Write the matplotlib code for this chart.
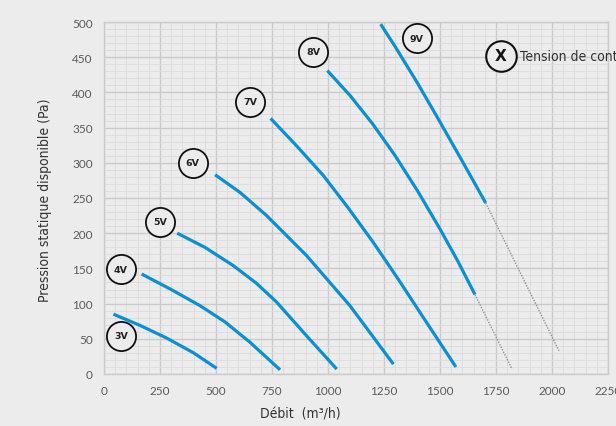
import matplotlib

matplotlib.use("Agg")
import matplotlib.pyplot as plt
from matplotlib import font_manager
from matplotlib.ticker import MultipleLocator

# Fan curves: airflow (m3/h) vs available static pressure (Pa), per control voltage
labels = ["3V", "4V", "5V", "6V", "7V", "8V", "9V"]
flow = [
    [42, 161, 280, 400, 503],
    [168, 300, 429, 540, 652, 786],
    [327, 450, 577, 680, 771, 905, 1039],
    [496, 607, 726, 905, 1098, 1292],
    [744, 860, 979, 1090, 1202, 1315, 1426, 1571],
    [997, 1100, 1200, 1300, 1400, 1500, 1580, 1656],
    [1235, 1300, 1400, 1500, 1600, 1704],
]
pressure = [
    [85, 69, 51, 30, 8],
    [142, 120, 97, 74, 45, 6],
    [200, 180, 154, 129, 102, 54, 7],
    [283, 258, 225, 168, 97, 14],
    [363, 324, 282, 236, 187, 134, 80, 10],
    [431, 395, 355, 310, 260, 206, 160, 113],
    [497, 465, 413, 358, 302, 243],
]
# extrapolated tails (grey) for the two highest voltages
tail_flow = {"8V": [1656, 1820], "9V": [1704, 2031]}
tail_pressure = {"8V": [113, 8], "9V": [243, 33]}

# circled tags
tag_x = [76, 76, 250, 396, 652, 934, 1396]
tag_y = [54, 149, 216, 300, 387, 458, 477]
legend_xy = (1772, 452)

BG = "#ececec"
BLUE = "#0b8fd0"
NARROW = font_manager.FontProperties(family="DejaVu Sans", stretch="condensed", size=10)
TICKS = "Lato"

fig = plt.figure(figsize=(6.16, 4.27), dpi=100, facecolor=BG)
ax = fig.add_axes([104 / 616, 52 / 427, 504 / 616, 352 / 427])
ax.set_facecolor(BG)

for xs, ys in zip(flow, pressure):
    ax.plot(xs, ys, color=BLUE, lw=2.3, solid_capstyle="butt", solid_joinstyle="round",
            zorder=3)
for key in tail_flow:
    ax.plot(tail_flow[key], tail_pressure[key], color="#909090", lw=1.0,
            ls=(0, (1, 1)), zorder=3)

for lab, x, y in zip(labels, tag_x, tag_y):
    ax.plot(x, y, "o", ms=21, mfc=BG, mec="#111111", mew=1.3, zorder=4)
    ax.text(x, y, lab, ha="center", va="center", fontsize=6.8, fontweight="bold",
            color="#222222", zorder=5)

ax.plot(*legend_xy, "o", ms=22, mfc=BG, mec="#111111", mew=1.5, zorder=4)
ax.text(*legend_xy, "X", ha="center", va="center", fontsize=11, fontweight="bold",
        color="#111111", zorder=5)
ax.text(legend_xy[0] + 85, legend_xy[1], "Tension de contrôle", ha="left", va="center",
        fontproperties=NARROW, color="#333333", clip_on=False)

ax.set_xlim(0, 2250)
ax.set_ylim(0, 500)
ax.xaxis.set_major_locator(MultipleLocator(250))
ax.yaxis.set_major_locator(MultipleLocator(50))
ax.xaxis.set_minor_locator(MultipleLocator(50))
ax.yaxis.set_minor_locator(MultipleLocator(10))
ax.grid(which="major", color="#cbcbcb", lw=1.0, zorder=1)
ax.grid(which="minor", color="#dcdcdc", lw=0.6, zorder=0)
ax.set_axisbelow(True)
ax.tick_params(which="both", length=0, labelsize=8.5, labelcolor="#5a5a5a", pad=8)
for lbl in ax.get_xticklabels() + ax.get_yticklabels():
    lbl.set_family(TICKS)
for side in ax.spines.values():
    side.set_color("#cbcbcb")
    side.set_linewidth(1.0)

fig.text(300 / 616, 1 - 415 / 427, "Débit  (m³/h)", ha="center", va="center",
         fontproperties=NARROW, color="#333333")
fig.text(45 / 616, 1 - 200 / 427, "Pression statique disponible (Pa)", ha="center",
         va="center", rotation=90, fontproperties=NARROW, color="#333333")

fig.savefig("out.png", dpi=100, facecolor=BG)
